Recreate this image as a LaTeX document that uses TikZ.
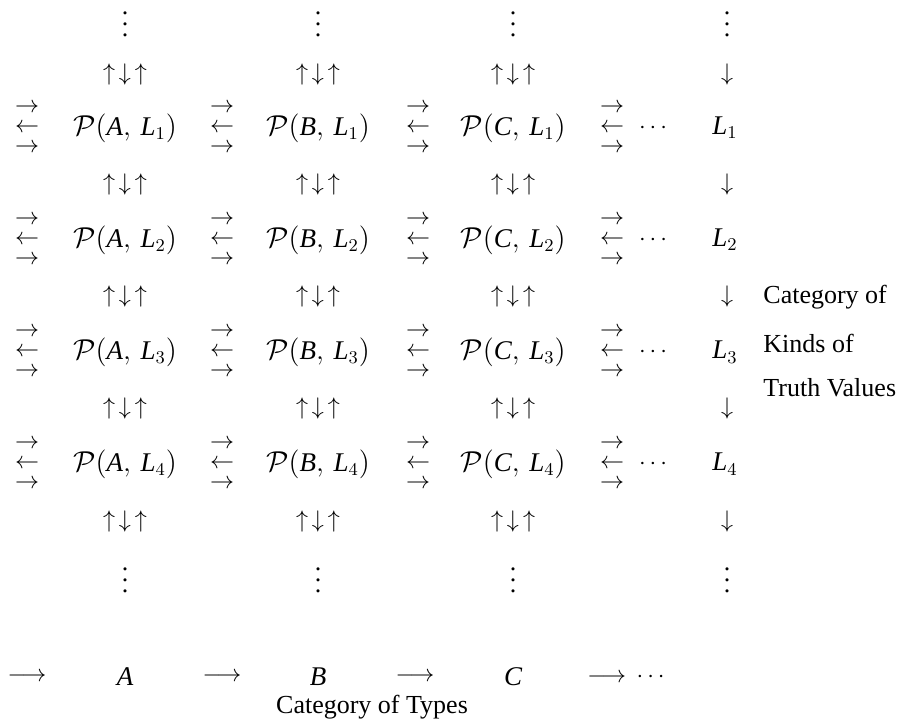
\documentclass[tikz,border=0pt]{standalone}
\usepackage{fontspec}
\setmainfont{Liberation Serif}
\newcommand{\myvd}{\vbox{\baselineskip5.5pt\lineskiplimit-10pt\hbox{.}\hbox{.}\hbox{.}}}
\begin{document}
\begin{tikzpicture}[x=0.5pt,y=-0.5pt,
  every node/.style={font=\fontsize{13}{15}\selectfont, inner sep=0pt},
  big/.style={font=\fontsize{13.5}{16}\selectfont},
  stack/.style={align=center, font=\fontsize{13}{10}\selectfont},
  lbl/.style={anchor=west}]
\useasboundingbox (0,0) rectangle (898,721);
% columns of P(X,L_i)
\foreach \c/\x in {A/125,B/318,C/513} {
  \node (vt\c) at (\x,24) {\myvd};
  \foreach \r/\y in {1/128,2/240,3/352,4/464}
    {\node[big] (p\c\r) at (\x,\y) {$\mathcal{P}(\mathit{\c},\,\mathit{L}_{\r})$};}
  \foreach \i/\y in {1/75,2/185,3/297,4/408,5/521}
    {\node (u\c\i) at (\x,\y) {$\uparrow\,\downarrow\,\uparrow$};}
  \node (vb\c) at (\x,580) {\myvd};
}
% arrow stacks between columns
\foreach \s/\x in {1/27,2/222,3/418,4/612} {
  \foreach \r/\y in {1/128,2/240,3/352,4/464}
    {\node[stack] (s\s\r) at (\x,\y) {$\rightarrow$\\$\leftarrow$\\$\rightarrow$};}
}
% dots and L column
\foreach \r/\y in {1/128,2/240,3/352,4/464} {
  \node (d\r) at (653,\y) {$\cdots$};
  \node[big] (L\r) at (725,\y) {$\mathit{L}_{\r}$};
}
\node (vtL) at (727,24) {\myvd};
\foreach \i/\y in {1/75,2/185,3/297,4/408,5/521}
  {\node (dn\i) at (727,\y) {$\downarrow$};}
\node (vbL) at (727,580) {\myvd};
% right label
\node[lbl] (k1) at (763,297) {Category of};
\node[lbl] (k2) at (763,343) {Kinds of};
\node[lbl] (k3) at (763,388) {Truth Values};
% bottom row
\node (t0) at (27,677) {$\longrightarrow$};
\node[big] (tA) at (125,677) {$\mathit{A}$};
\node (t1) at (222,677) {$\longrightarrow$};
\node[big] (tB) at (318,677) {$\mathit{B}$};
\node (t2) at (415,677) {$\longrightarrow$};
\node[big] (tC) at (513,677) {$\mathit{C}$};
\node (t3) at (626,677) {$\longrightarrow\,\cdots$};
\node (cat) at (372,707) {Category of Types};
\end{tikzpicture}
\end{document}
